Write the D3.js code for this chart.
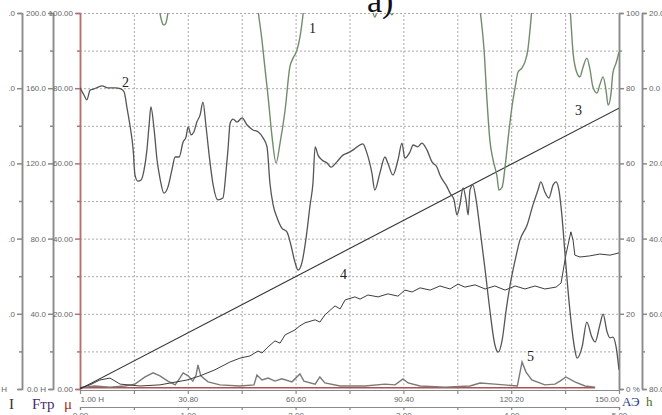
<!DOCTYPE html>
<html>
<head>
<meta charset="utf-8">
<script src="https://cdn.jsdelivr.net/npm/d3@7"></script>
<style>
  body { margin: 0; background: #fff; }
  svg { display: block; }
  .tk text { font-family: "Liberation Sans Narrow", "Liberation Sans", Arial, sans-serif; font-size: 8px; fill: #666; }
  .lbl { font-family: "Liberation Serif", "Times New Roman", serif; }
</style>
</head>
<body>
<div id="chart"></div>
<script>
// hours along the run
const xLabels = ['1.00 H', '30.80', '60.60', '90.40', '120.20', '150.00']
const x2Labels = ['0.00', '1.00', '2.00', '3.00', '4.00', '5.00']

// [hours, value on the 0..100 scale]
const curve1 = [[1,112],[20.4,112],[22.3,108],[23.1,100],[23.7,97.5],[24.2,96.8],[24.8,97.5],[25.3,100],[26.2,108],[27.3,112],
  [48.8,112],[50.2,100.8],[51.3,92.8],[52.1,85.6],[53.0,77.7],[54.1,67.0],[55.2,60.1],[56.3,65.4],[57.7,74.2],[59.0,85.6],[59.9,88.0],[61.0,90.2],[61.8,93.6],[62.7,100.0],[63.5,108],[65,112],
  [80.5,108],[81.7,101.5],[82.5,98.9],[83.4,101.5],[85,106],[86.4,101.5],[87.2,99.5],[88.1,101.5],[90,108],
  [109,112],[110.5,110],[111.6,100.8],[112.7,90.2],[113.5,76.9],[114.3,66.2],[115.2,60.9],[116.3,56.4],[116.8,52.9],[117.7,53.7],[118.5,59.0],[119.3,66.2],[120.4,75.0],[121.3,80.3],[122.1,84.3],[123.2,85.4],[124.0,87.0],[124.8,90.2],[125.4,95.5],[125.9,100.8],[126.8,110],[128,112],
  [134,112],[135.3,110],[136.5,100.8],[137.3,89.4],[138.4,84.0],[139.2,83.0],[140.0,85.4],[141.1,88.0],[141.9,85.4],[142.8,80.3],[143.9,78.7],[144.7,80.9],[145.6,83.0],[146.4,79.5],[147.0,75.5],[147.8,78.7],[148.3,84.0],[149.2,86.7],[150.0,89.6]]

const curve2 = [[1.0,80.1],[2.1,78.2],[2.9,76.9],[3.8,79.5],[4.9,79.8],[6.0,80.3],[7.1,80.6],[8.7,80.1],[10.7,80.1],[12.3,79.8],[13.2,79.0],[14.0,74.7],[14.8,70.2],[15.7,63.6],[16.2,56.9],[17.0,55.3],[17.9,55.6],[18.7,58.2],[19.5,63.6],[20.1,70.2],[20.6,75.0],[21.5,68.9],[22.3,60.9],[23.1,56.1],[24.2,52.1],[25.3,53.7],[26.4,58.2],[27.3,61.7],[28.4,61.7],[29.5,65.7],[30.3,67.0],[30.9,69.7],[31.7,67.6],[32.5,68.4],[33.3,71.0],[34.2,72.9],[35.0,76.3],[35.8,70.2],[36.7,62.2],[37.8,54.3],[39.1,50.3],[40.5,50.8],[41.4,58.2],[41.9,63.6],[42.5,70.7],[43.3,71.8],[44.4,71.0],[45.8,72.1],[47.2,70.2],[48.8,68.9],[50.2,68.4],[51.6,66.8],[52.7,64.4],[53.5,54.8],[54.4,48.9],[55.5,45.5],[56.8,42.8],[58.2,41.8],[59.3,38.3],[60.4,33.8],[61.3,31.6],[62.4,33.8],[63.5,40.2],[64.6,48.9],[65.4,54.8],[66.0,64.4],[66.8,62.2],[67.9,60.9],[69.3,60.1],[70.4,59.0],[72.0,60.4],[73.7,62.2],[75.1,62.8],[76.5,63.6],[77.6,64.4],[79.2,65.2],[80.3,62.8],[81.7,57.4],[82.5,52.9],[83.9,57.4],[85.3,61.7],[86.1,60.1],[87.5,56.9],[88.9,60.9],[90.0,65.4],[90.8,61.4],[92.2,63.0],[93.1,64.9],[94.4,64.4],[95.5,65.4],[96.9,63.6],[98.3,60.4],[99.7,59.0],[100.5,56.9],[102.5,53.7],[103.3,52.1],[104.4,50.3],[105.2,46.3],[106.0,48.9],[106.9,53.5],[107.7,50.3],[108.3,46.3],[108.8,52.9],[109.6,54.3],[110.5,50.3],[111.6,42.3],[113.0,31.6],[114.3,21.0],[115.7,11.7],[116.6,9.8],[117.7,13.0],[118.8,21.0],[119.9,27.7],[121.3,34.3],[122.6,39.6],[124.6,43.6],[126.2,48.9],[127.6,52.9],[128.4,55.1],[129.5,52.4],[130.6,50.8],[131.8,54.3],[132.6,55.1],[133.4,52.9],[134.2,46.3],[135.1,35.6],[135.9,26.3],[136.7,18.4],[137.8,10.4],[138.4,8.2],[139.8,11.2],[141.1,17.8],[142.5,13.8],[143.4,12.5],[144.7,17.0],[145.6,19.9],[146.7,15.2],[147.5,13.6],[148.3,13.8],[149.2,11.2],[150.0,5.1]]

const line3 = [[1, 0], [150, 74.7]]

const curve4 = [[1.0,0.3],[3.8,1.1],[6.5,2.4],[9.3,2.9],[12.1,1.3],[17.6,0.8],[23.1,1.1],[30.6,2.4],[34.2,3.5],[38.3,5.1],[42.5,7.2],[45.2,8.2],[48.0,8.8],[50.2,10.1],[51.3,9.6],[53.0,11.2],[54.9,12.8],[56.3,12.2],[57.7,14.4],[60.4,15.7],[61.8,16.8],[63.2,17.6],[66.0,18.4],[67.3,17.8],[68.7,19.7],[71.5,22.1],[72.9,21.3],[74.3,23.7],[77.0,24.5],[78.4,23.9],[80.6,25.0],[83.4,24.5],[86.1,25.3],[88.9,24.7],[90.8,26.3],[92.8,25.8],[95.0,26.9],[97.8,26.3],[100.5,27.4],[103.3,26.6],[105.5,27.9],[107.4,27.1],[110.2,27.7],[113.0,26.6],[115.7,27.4],[118.5,26.3],[121.3,27.4],[124.0,26.6],[126.8,27.4],[129.5,26.6],[132.6,27.1],[134.0,28.2],[135.3,35.6],[136.7,41.8],[137.3,39.6],[137.8,35.6],[139.2,35.1],[141.9,35.4],[144.7,35.9],[147.5,35.6],[150.0,36.2]]

const curve5 = [[1.0,0.3],[5.1,0.8],[9.3,0.5],[13.4,0.8],[16.2,1.3],[19.0,3.2],[21.2,4.3],[23.1,3.5],[25.3,2.1],[27.3,1.1],[28.6,2.9],[29.5,4.3],[30.9,3.5],[32.2,2.1],[33.1,3.7],[33.6,6.4],[34.4,3.5],[36.4,1.9],[39.7,1.1],[45.2,0.8],[49.1,1.1],[49.9,3.7],[51.3,2.4],[53.0,2.9],[54.9,2.1],[56.8,2.7],[59.6,1.9],[61.8,4.0],[62.9,2.1],[66.0,1.3],[67.3,3.2],[68.7,1.6],[72.9,0.8],[79.8,0.8],[85.3,1.3],[88.1,1.1],[90.3,2.7],[91.7,1.6],[95.0,0.8],[101.9,0.5],[108.8,0.8],[111.6,1.6],[115.7,1.3],[121.9,0.8],[123.2,7.2],[124.3,4.5],[125.9,2.4],[129.5,1.1],[132.3,1.3],[133.7,2.1],[135.3,3.2],[137.8,1.9],[140.6,0.8],[143.4,0.5]]

const mu = [[1, 0.3], [143.4, 0.3]]

const width = 662, height = 415
const L = 80, R = 619, T = 13, B = 389

const svg = d3.select('#chart').append('svg')
  .attr('width', width)
  .attr('height', height)

const x = d3.scaleLinear().domain([1, 150]).range([L, R])
const x2 = d3.scaleLinear().domain([0, 5]).range([L, R])
const y = d3.scaleLinear().domain([0, 100]).range([B, T])
const yF = d3.scaleLinear().domain([0, 200]).range([B, T])
const yI = d3.scaleLinear().domain([0, 250]).range([B, T])
const yh = d3.scaleLinear().domain([-80, 20]).range([B, T])

const gridHours = d3.range(11).map(i => 1 + i * 14.9)

// grid
svg.append('g')
  .attr('transform', `translate(0,${B})`)
  .call(d3.axisBottom(x).tickValues(gridHours.slice(1, 10)).tickSize(-(B - T)).tickFormat(''))
  .call(g => g.select('.domain').remove())
  .selectAll('line').attr('stroke', '#aaa').attr('stroke-dasharray', '2,2')
svg.append('g')
  .attr('transform', `translate(${L},0)`)
  .call(d3.axisLeft(y).tickValues(d3.range(10, 101, 10)).tickSize(-(R - L)).tickFormat(''))
  .call(g => g.select('.domain').remove())
  .selectAll('line').attr('stroke', '#aaa').attr('stroke-dasharray', '2,2')

// vertical axes
function vAxis(axisFn, scale, xpos, major, minor, fmt, lineColor, textColor) {
  const g = svg.append('g').attr('class', 'tk').attr('transform', `translate(${xpos},0)`)
  g.append('g').call(axisFn(scale).tickValues(minor).tickSize(3).tickSizeOuter(0).tickFormat(''))
  g.append('g').call(axisFn(scale).tickValues(major).tickSize(5).tickSizeOuter(4).tickPadding(2).tickFormat(fmt))
  g.selectAll('path, line').attr('stroke', lineColor).attr('stroke-width', 1.5)
  g.selectAll('text').attr('fill', textColor)
  return g
}

const majors = [0, 20, 40, 60, 80, 100]
const minors = [10, 30, 50, 70, 90]

// the leftmost axis is cut by the picture's edge
svg.append('clipPath').attr('id', 'edge')
  .append('rect').attr('x', -13).attr('y', 0).attr('width', 30).attr('height', height)
vAxis(d3.axisLeft, yI, 22, [0, 50, 100, 150, 200, 250], [25, 75, 125, 175, 225],
  d => d === 0 ? '' : d.toFixed(1), '#8a8a8a', '#666')
  .attr('clip-path', 'url(#edge)')
svg.append('g').attr('class', 'tk').append('text')
  .attr('x', 7).attr('y', yI(0) + 3).attr('text-anchor', 'end').text('H')

vAxis(d3.axisLeft, yF, 53, [0, 40, 80, 120, 160, 200], [20, 60, 100, 140, 180],
  d => d === 0 ? '0.0 H' : d.toFixed(1), '#8a8a8a', '#666')
vAxis(d3.axisLeft, y, L, majors, minors, d => d.toFixed(2), '#b27272', '#8b2e2e')
vAxis(d3.axisRight, y, R, majors, minors, d => d === 0 ? '0 %' : d, '#8a8a8a', '#666')
vAxis(d3.axisRight, yh, 642, [-80, -60, -40, -20, 0, 20], [-70, -50, -30, -10, 10],
  d => Math.abs(d).toFixed(1), '#8a8a8a', '#666')

// bottom axes
const gx = svg.append('g').attr('class', 'tk').attr('transform', `translate(0,${B + 1})`)
  .call(d3.axisBottom(x).tickValues(gridHours).tickSize(4).tickSizeOuter(0).tickPadding(2)
    .tickFormat((d, i) => i % 2 ? '' : xLabels[i / 2]))
gx.selectAll('text').attr('text-anchor', (d, i) => i === 0 ? 'start' : i === 10 ? 'end' : 'middle')
gx.selectAll('path, line').attr('stroke', '#8a8a8a').attr('stroke-width', 1.2)

const gx2 = svg.append('g').attr('class', 'tk').attr('transform', 'translate(0,407)')
  .call(d3.axisBottom(x2).tickValues(d3.range(0, 5.01, 0.5)).tickSize(3).tickSizeOuter(3).tickPadding(2)
    .tickFormat(d => Number.isInteger(d) ? x2Labels[d] : ''))
gx2.selectAll('path, line').attr('stroke', '#8a8a8a').attr('stroke-width', 1.2)

// curves
svg.append('clipPath').attr('id', 'plot')
  .append('rect').attr('x', L).attr('y', T).attr('width', R - L).attr('height', B - T)

const smooth = d3.line().x(d => x(d[0])).y(d => y(d[1])).curve(d3.curveMonotoneX)
const straight = d3.line().x(d => x(d[0])).y(d => y(d[1]))

const plot = svg.append('g').attr('clip-path', 'url(#plot)').attr('fill', 'none')
plot.append('path').attr('d', straight(mu)).attr('stroke', '#b05050').attr('stroke-width', 1.5)
plot.append('path').attr('d', straight(curve5)).attr('stroke', '#7a7a7a').attr('stroke-width', 1.4)
plot.append('path').attr('d', straight(curve4)).attr('stroke', '#3d3d3d').attr('stroke-width', 1)
plot.append('path').attr('d', straight(line3)).attr('stroke', '#333').attr('stroke-width', 1.1)
plot.append('path').attr('d', smooth(curve2)).attr('stroke', '#555').attr('stroke-width', 1.3)
plot.append('path').attr('d', smooth(curve1)).attr('stroke', '#718c6c').attr('stroke-width', 1.4)

// curve numbers
const nums = [['1', 309, 33], ['2', 122, 87], ['3', 575, 115], ['4', 340, 279], ['5', 527, 361]]
svg.selectAll('.num').data(nums).enter().append('text')
  .attr('class', 'lbl').attr('x', d => d[1]).attr('y', d => d[2])
  .style('font-size', '14px').attr('fill', '#222').text(d => d[0])

// title and axis names
svg.append('text').attr('class', 'lbl').attr('x', 367).attr('y', 12)
  .style('font-size', '34px').attr('fill', '#111').text('a)')

const names = [['I', 9, 409, '#333', 15], ['Fтр', 32, 409, '#4b2a6e', 15], ['μ', 64, 409, '#b02a2a', 15],
  ['АЭ', 622, 406, '#2b3a8a', 13], ['h', 646, 406, '#4a6b1f', 13]]
svg.selectAll('.name').data(names).enter().append('text')
  .attr('class', 'lbl').attr('x', d => d[1]).attr('y', d => d[2])
  .attr('fill', d => d[3]).style('font-size', d => d[4] + 'px').text(d => d[0])
</script>
</body>
</html>
